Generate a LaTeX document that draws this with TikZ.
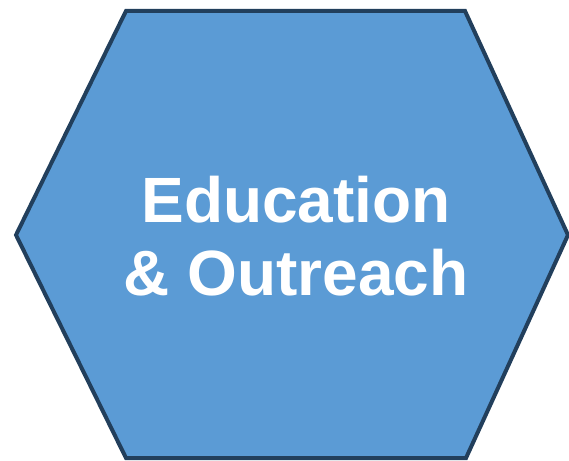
\documentclass[tikz,border=0pt]{standalone}
\usepackage{fontspec}
\setmainfont{Liberation Sans}
\usetikzlibrary{calc}
\definecolor{hexfill}{HTML}{5B9BD5}
\definecolor{hexline}{HTML}{223F5C}
\tikzset{
  hexagon/.style={fill=hexfill,draw=hexline,line width=4pt,line join=miter},
  hexlabel/.style={text=white,font=\fontsize{64}{73}\selectfont\bfseries,align=center}
}
\begin{document}
\begin{tikzpicture}[x=1pt,y=-1pt]
      \useasboundingbox (0,0) rectangle (569,460);
      \coordinate (tl) at (126,11);
      \coordinate (tr) at (465,11);
      \coordinate (r) at (568,235);
      \coordinate (br) at (466,458);
      \coordinate (bl) at (126,458);
      \coordinate (l) at (16,235);
      \draw[hexagon] (tl)--(tr)--(r)--(br)--(bl)--(l)--cycle;
      \node[hexlabel] (title) at (296,236) {Education\\\& Outreach};
\end{tikzpicture}
\end{document}
